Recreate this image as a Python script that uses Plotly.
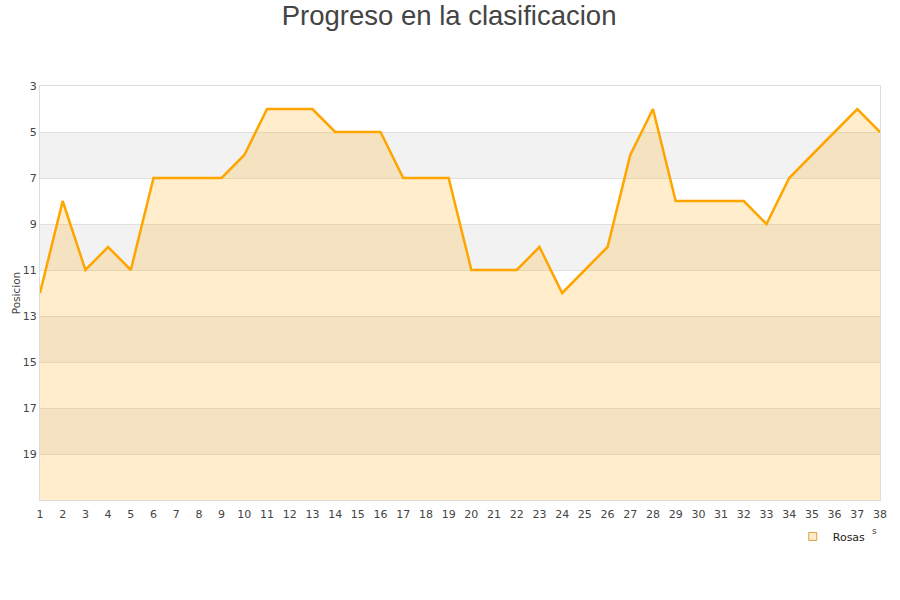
import plotly.graph_objects as go

jornadas = list(range(1, 39))
posicion = [12, 8, 11, 10, 11, 7, 7, 7, 7, 6, 4, 4, 4, 5, 5, 5, 7, 7, 7, 11,
            11, 11, 10, 12, 11, 10, 6, 4, 8, 8, 8, 8, 9, 7, 6, 5, 4, 5]
y_ticks = [3, 5, 7, 9, 11, 13, 15, 17, 19]
band_ranges = [(5, 7), (9, 11), (13, 15), (17, 19)]
y_bottom = 21
serie = "Rosas"

fig = go.Figure()

fig.add_trace(go.Scatter(x=jornadas, y=[y_bottom] * len(jornadas), mode="lines",
                         line=dict(width=0), showlegend=False, hoverinfo="skip"))
fig.add_trace(go.Scatter(x=jornadas, y=posicion, mode="lines", name=serie,
                         line=dict(color="#FFA500", width=2.5), showlegend=False,
                         fill="tonexty", fillcolor="rgba(255,165,0,0.2)"))
fig.add_trace(go.Scatter(x=[None], y=[None], mode="markers", name=serie,
                         marker=dict(symbol="square", size=8, color="#FEEBCB",
                                     line=dict(color="#E0A040", width=1))))

shapes = []
for a, b in band_ranges:
    shapes.append(dict(type="rect", xref="paper", yref="y", x0=0, x1=1, y0=a, y1=b,
                       fillcolor="#F2F2F2", line=dict(width=0), layer="below"))
fig.update_layout(shapes=shapes)

fig.update_layout(
    width=900, height=600,
    paper_bgcolor="white", plot_bgcolor="white",
    margin=dict(l=40, r=20, t=86, b=100, autoexpand=False),
    title=dict(text="Progreso en la clasificacion", x=0.499, xanchor="center",
               xref="container", yref="container", y=0.975, yanchor="middle", automargin=False,
               font=dict(family="Liberation Sans, Arial", size=27.5, color="#444444")),
    font=dict(family="DejaVu Sans", size=11, color="#444444"),
    xaxis=dict(range=[1, 38], tickmode="array", tickvals=jornadas, showgrid=False,
               zeroline=False, showline=True, linecolor="#DDDDDD", mirror=True,
               ticks="outside", ticklen=4, tickcolor="rgba(0,0,0,0)", automargin=False,
               tickfont=dict(size=11, color="#444444")),
    yaxis=dict(range=[y_bottom, 3], tickmode="array", tickvals=y_ticks, showgrid=True,
               gridcolor="#E0E0E0", zeroline=False, showline=True, linecolor="#DDDDDD",
               mirror=True, ticks="", automargin=False, tickfont=dict(size=11, color="#444444"),
               title=dict(text="Posicion", font=dict(size=10.5, color="#444444"), standoff=0)),
    legend=dict(x=0.989, xanchor="right", y=-0.053, yanchor="top", orientation="h",
                font=dict(size=11, color="#222222"), bgcolor="rgba(0,0,0,0)",
                itemwidth=30),
    showlegend=True,
)

fig.add_annotation(text="s", xref="paper", yref="paper", x=0.994, y=-0.075,
                   showarrow=False, font=dict(size=9, color="#444444"), xanchor="center",
                   yanchor="middle")

fig.write_html("out.html", config={"displayModeBar": False},
               post_script="document.body.style.margin='0';")
